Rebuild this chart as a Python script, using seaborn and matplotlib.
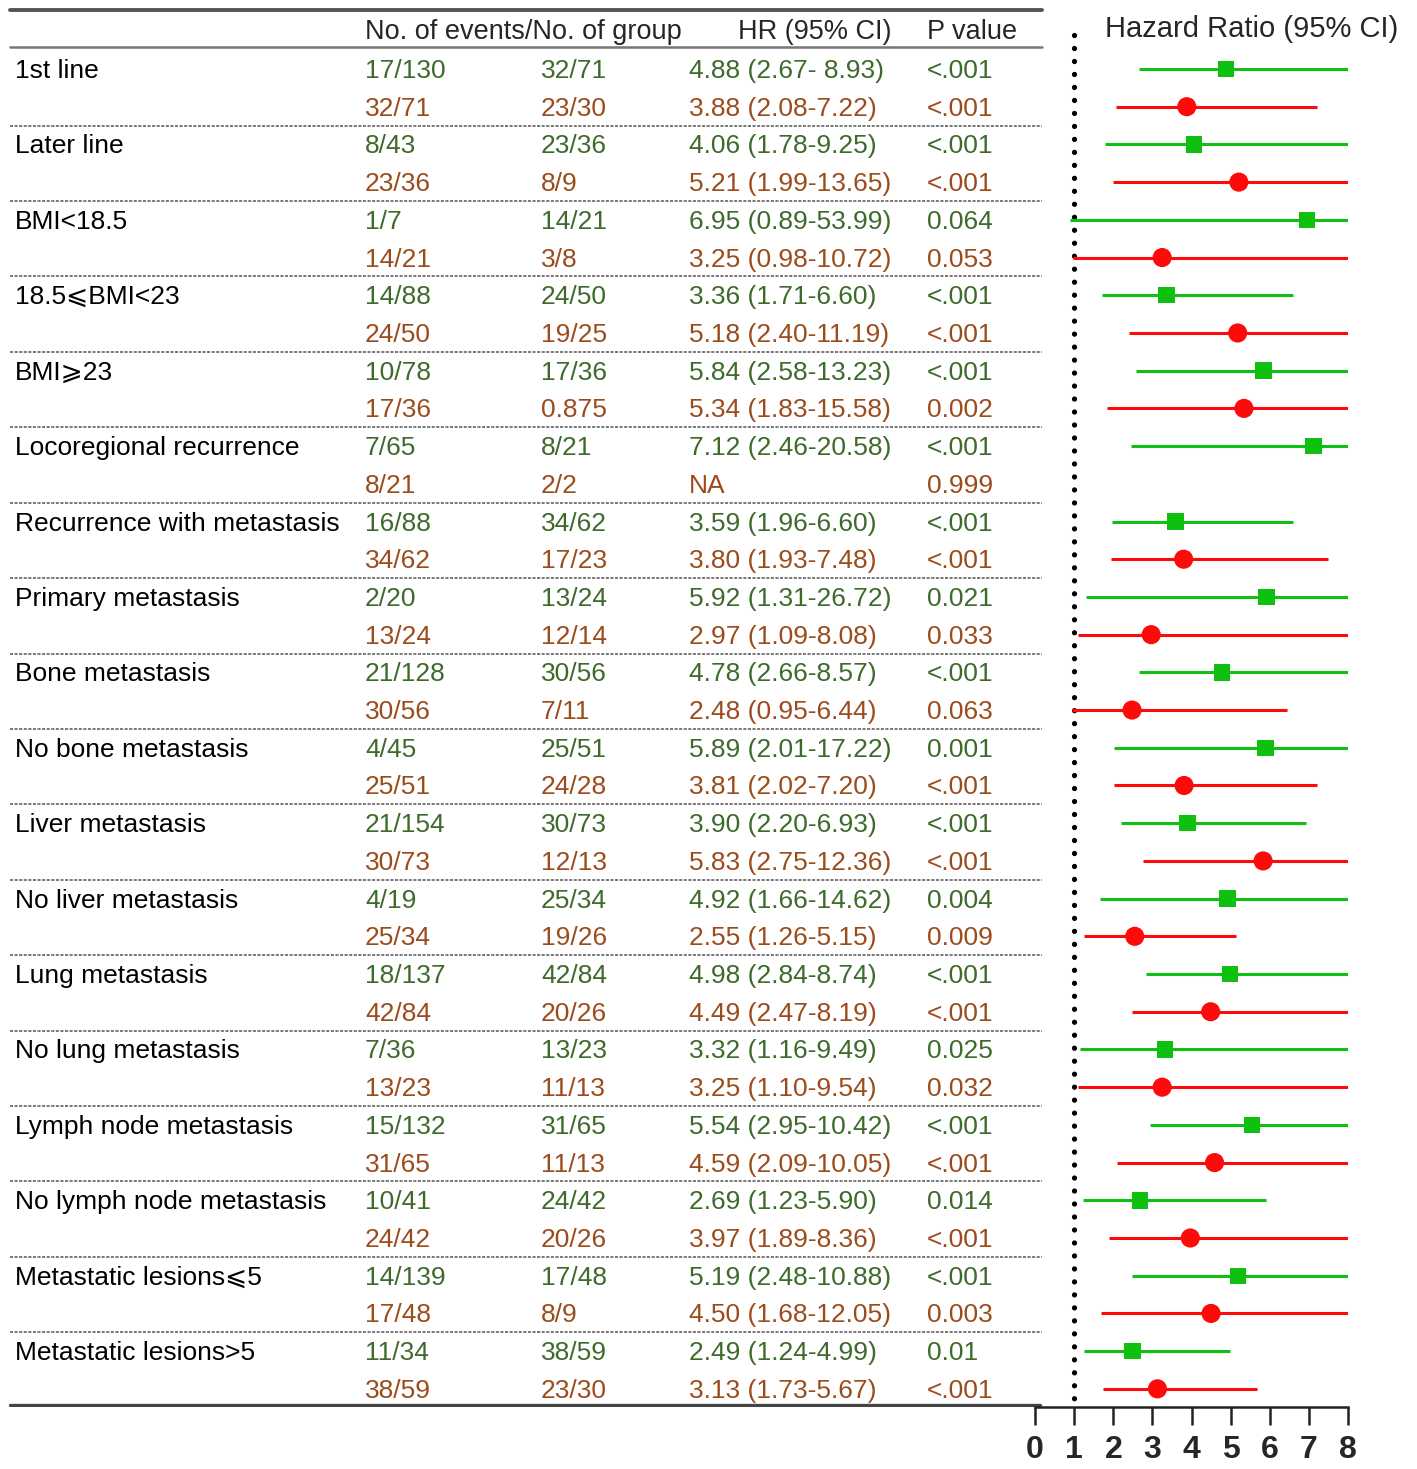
import numpy as np
import pandas as pd
import seaborn as sns
import matplotlib.pyplot as plt

# subgroup labels (one per pair of rows)
groups = ["1st line", "Later line", "BMI<18.5", "18.5⩽BMI<23", "BMI⩾23",
          "Locoregional recurrence", "Recurrence with metastasis", "Primary metastasis",
          "Bone metastasis", "No bone metastasis", "Liver metastasis", "No liver metastasis",
          "Lung metastasis", "No lung metastasis", "Lymph node metastasis",
          "No lymph node metastasis", "Metastatic lesions⩽5", "Metastatic lesions>5"]

# green rows (first row in each group)
g_col1 = ["17/130", "8/43", "1/7", "14/88", "10/78", "7/65", "16/88", "2/20", "21/128",
          "4/45", "21/154", "4/19", "18/137", "7/36", "15/132", "10/41", "14/139", "11/34"]
g_col2 = ["32/71", "23/36", "14/21", "24/50", "17/36", "8/21", "34/62", "13/24", "30/56",
          "25/51", "30/73", "25/34", "42/84", "13/23", "31/65", "24/42", "17/48", "38/59"]
g_hr = [4.88, 4.06, 6.95, 3.36, 5.84, 7.12, 3.59, 5.92, 4.78,
        5.89, 3.90, 4.92, 4.98, 3.32, 5.54, 2.69, 5.19, 2.49]
g_lo = [2.67, 1.78, 0.89, 1.71, 2.58, 2.46, 1.96, 1.31, 2.66,
        2.01, 2.20, 1.66, 2.84, 1.16, 2.95, 1.23, 2.48, 1.24]
g_hi = [8.93, 9.25, 53.99, 6.60, 13.23, 20.58, 6.60, 26.72, 8.57,
        17.22, 6.93, 14.62, 8.74, 9.49, 10.42, 5.90, 10.88, 4.99]
g_p = ["<.001", "<.001", "0.064", "<.001", "<.001", "<.001", "<.001", "0.021", "<.001",
       "0.001", "<.001", "0.004", "<.001", "0.025", "<.001", "0.014", "<.001", "0.01"]
g_hrtxt = ["4.88 (2.67- 8.93)", "4.06 (1.78-9.25)", "6.95 (0.89-53.99)", "3.36 (1.71-6.60)",
           "5.84 (2.58-13.23)", "7.12 (2.46-20.58)", "3.59 (1.96-6.60)", "5.92 (1.31-26.72)",
           "4.78 (2.66-8.57)", "5.89 (2.01-17.22)", "3.90 (2.20-6.93)", "4.92 (1.66-14.62)",
           "4.98 (2.84-8.74)", "3.32 (1.16-9.49)", "5.54 (2.95-10.42)", "2.69 (1.23-5.90)",
           "5.19 (2.48-10.88)", "2.49 (1.24-4.99)"]

# brown/red rows (second row in each group)
r_col1 = ["32/71", "23/36", "14/21", "24/50", "17/36", "8/21", "34/62", "13/24", "30/56",
          "25/51", "30/73", "25/34", "42/84", "13/23", "31/65", "24/42", "17/48", "38/59"]
r_col2 = ["23/30", "8/9", "3/8", "19/25", "0.875", "2/2", "17/23", "12/14", "7/11",
          "24/28", "12/13", "19/26", "20/26", "11/13", "11/13", "20/26", "8/9", "23/30"]
r_hr = [3.88, 5.21, 3.25, 5.18, 5.34, np.nan, 3.80, 2.97, 2.48,
        3.81, 5.83, 2.55, 4.49, 3.25, 4.59, 3.97, 4.50, 3.13]
r_lo = [2.08, 1.99, 0.98, 2.40, 1.83, np.nan, 1.93, 1.09, 0.95,
        2.02, 2.75, 1.26, 2.47, 1.10, 2.09, 1.89, 1.68, 1.73]
r_hi = [7.22, 13.65, 10.72, 11.19, 15.58, np.nan, 7.48, 8.08, 6.44,
        7.20, 12.36, 5.15, 8.19, 9.54, 10.05, 8.36, 12.05, 5.67]
r_p = ["<.001", "<.001", "0.053", "<.001", "0.002", "0.999", "<.001", "0.033", "0.063",
       "<.001", "<.001", "0.009", "<.001", "0.032", "<.001", "<.001", "0.003", "<.001"]
r_hrtxt = ["3.88 (2.08-7.22)", "5.21 (1.99-13.65)", "3.25 (0.98-10.72)", "5.18 (2.40-11.19)",
           "5.34 (1.83-15.58)", "NA", "3.80 (1.93-7.48)", "2.97 (1.09-8.08)",
           "2.48 (0.95-6.44)", "3.81 (2.02-7.20)", "5.83 (2.75-12.36)", "2.55 (1.26-5.15)",
           "4.49 (2.47-8.19)", "3.25 (1.10-9.54)", "4.59 (2.09-10.05)", "3.97 (1.89-8.36)",
           "4.50 (1.68-12.05)", "3.13 (1.73-5.67)"]

x_ticks = [0, 1, 2, 3, 4, 5, 6, 7, 8]

sns.set_style("white")
plt.rcParams['font.family'] = ['Liberation Sans', 'DejaVu Sans']

GREEN_TXT = "#3e6b2c"
BROWN_TXT = "#9c4c1c"
GREEN = "#10c010"
RED = "#ff0a0a"

n = len(groups)
rows = []
for i in range(n):
    rows.append(dict(row=2 * i, arm="green", hr=g_hr[i], lo=g_lo[i], hi=g_hi[i]))
    rows.append(dict(row=2 * i + 1, arm="red", hr=r_hr[i], lo=r_lo[i], hi=r_hi[i]))
df = pd.DataFrame(rows)

W, H = 1417, 1469
fig = plt.figure(figsize=(W / 100, H / 100), dpi=100)

# row i sits at pixel 69 + 37.71*i ; axes span pixel 0..1407 vertically
step = 37.71
y_top = (0 - 69) / step
y_bot = (1407 - 69) / step
ax_bottom = (H - 1407) / H
ax_height = 1407 / H

ax_t = fig.add_axes([0, ax_bottom, 1, ax_height])
ax_t.set_xlim(0, W)
ax_t.set_ylim(y_bot, y_top)
ax_t.axis("off")

fs = 19
dy = 2 / step  # small nudge so text sits on the row centre
col_x = [15, 365, 541, 689, 927]
for i in range(n):
    r0, r1 = 2 * i, 2 * i + 1
    ax_t.text(col_x[0], r0 + dy, groups[i], fontsize=fs, color="black", va="center")
    for x, s in zip(col_x[1:], [g_col1[i], g_col2[i], g_hrtxt[i], g_p[i]]):
        ax_t.text(x, r0 + dy, s, fontsize=fs, color=GREEN_TXT, va="center")
    for x, s in zip(col_x[1:], [r_col1[i], r_col2[i], r_hrtxt[i], r_p[i]]):
        ax_t.text(x, r1 + dy, s, fontsize=fs, color=BROWN_TXT, va="center")
    if i < n - 1:
        ax_t.plot([10, 1042], [r1 + 0.5, r1 + 0.5], color="#555555", lw=1.1,
                  ls=(0, (2, 1)))

hdr_y = (32 - 69) / step
ax_t.text(365, hdr_y, "No. of events/No. of group", fontsize=19.5, va="center")
ax_t.text(738, hdr_y, "HR (95% CI)", fontsize=19.5, va="center")
ax_t.text(927, hdr_y, "P value", fontsize=19.5, va="center")
ax_t.text(1105, (29 - 69) / step, "Hazard Ratio (95% CI)", fontsize=21, va="center")

ax_t.plot([10, 1042], [(10 - 69) / step] * 2, color="#555555", lw=2.8)
ax_t.plot([10, 1042], [(47 - 69) / step] * 2, color="#777777", lw=1.8)
ax_t.plot([10, 1040], [(1405 - 69) / step] * 2, color="#444444", lw=2.4)

# forest plot
ax_f = fig.add_axes([1035 / W, ax_bottom, 313 / W, ax_height])
ax_f.patch.set_alpha(0)
ax_f.set_xlim(0, 8)
ax_f.set_ylim(y_bot, y_top)

ax_f.vlines(1, (35 - 69) / step, y_bot, color="black", lw=3.8,
            linestyles=[(0, (0.01, 2.45))], capstyle="round")

cols = df["arm"].map({"green": GREEN, "red": RED})
ax_f.hlines(df["row"], df["lo"], df["hi"], colors=cols, lw=2.2)
sns.scatterplot(data=df[df.arm == "green"], x="hr", y="row", marker="s", s=140,
                color=GREEN, edgecolor="none", ax=ax_f, legend=False, zorder=3)
sns.scatterplot(data=df[df.arm == "red"], x="hr", y="row", marker="o", s=190,
                color=RED, edgecolor="none", ax=ax_f, legend=False, zorder=3)

for side in ["top", "right", "left"]:
    ax_f.spines[side].set_visible(False)
ax_f.spines["bottom"].set_color("#222222")
ax_f.spines["bottom"].set_linewidth(1.8)
ax_f.set_yticks([])
ax_f.set_xticks(x_ticks)
ax_f.set_xticklabels([str(t) for t in x_ticks], fontsize=23, fontweight="bold")
ax_f.tick_params(axis="x", direction="out", length=13, width=1.8, color="#222222",
                 pad=7, bottom=True)
ax_f.set_xlabel("")
ax_f.set_ylabel("")

fig.savefig("out.png", dpi=100)
